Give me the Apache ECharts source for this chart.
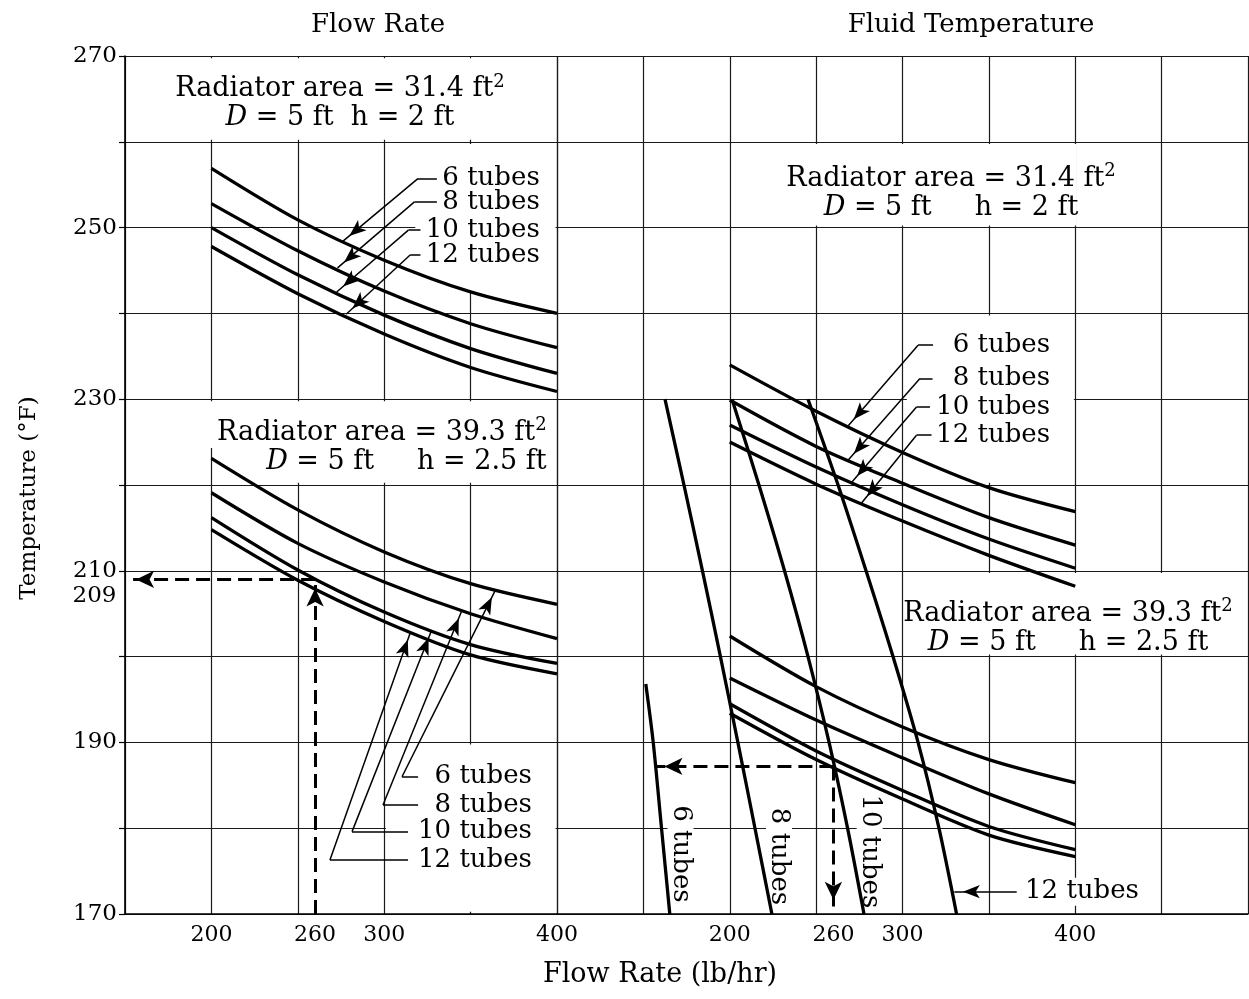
<!DOCTYPE html>
<html>
<head>
<meta charset="utf-8">
<title>Radiator outlet temperature vs flow rate</title>
<script src="https://cdn.jsdelivr.net/npm/echarts@6/dist/echarts.min.js"></script>
<style>
  html, body { margin: 0; padding: 0; background: #fff; }
  #chart { width: 1249px; height: 999px; }
</style>
</head>
<body>
<div id="chart"></div>
<script>
// ---- data -------------------------------------------------------------
// Flow rates (lb/hr) at which the radiator curves are read
const flowRates = [200, 250, 300, 350, 400];

// Flow-rate panel, radiator area 31.4 ft² (D = 5 ft, h = 2 ft): temperature °F
const small6  = [256.9, 250.9, 246.2, 242.5, 240.0];
const small8  = [252.8, 247.3, 242.6, 238.8, 236.0];
const small10 = [250.0, 244.5, 239.8, 235.9, 233.0];
const small12 = [247.8, 242.3, 237.6, 233.7, 230.9];
// Flow-rate panel, radiator area 39.3 ft² (D = 5 ft, h = 2.5 ft)
const large6  = [223.1, 217.1, 212.2, 208.5, 206.1];
const large8  = [219.1, 213.2, 208.7, 205.0, 202.1];
const large10 = [216.2, 210.1, 205.2, 201.4, 199.2];
const large12 = [214.8, 208.9, 204.1, 200.2, 198.0];

// Fluid-temperature panel, radiator area 31.4 ft²
const fluidSmall6  = [234.0, 228.6, 223.8, 219.7, 216.9];
const fluidSmall8  = [229.9, 224.5, 220.2, 216.2, 213.0];
const fluidSmall10 = [227.0, 222.1, 217.7, 213.7, 210.3];
const fluidSmall12 = [225.0, 220.1, 215.8, 211.8, 208.2];
// Fluid-temperature panel, radiator area 39.3 ft²
const fluidLarge6  = [202.4, 196.5, 191.8, 188.0, 185.3];
const fluidLarge8  = [197.5, 192.6, 188.2, 184.0, 180.4];
const fluidLarge10 = [194.5, 189.0, 184.4, 180.2, 177.5];
const fluidLarge12 = [193.4, 188.0, 183.4, 179.2, 176.7];

// Constant-tube-count lines of the fluid-temperature panel
const tubeTemps  = [230, 220, 210, 200, 190, 180, 170];
const tube8Flow  = [162.5, 173.5, 184.2, 194.6, 204.7, 214.6, 224.4];
const tube10Flow = [201.3, 216.9, 231.7, 245.3, 257.5, 268.2, 277.7];
const tube12Flow = [245.3, 262.7, 278.9, 294.5, 309.0, 321.1, 331.3];
const tube6Flow  = [151.4, 155.7, 160.5, 165.3];
const tube6Temp  = [196.8, 190, 180, 170];

// Worked examples (dashed guides)
const exampleFlow = 260;        // lb/hr
const exampleTemp = 209;        // °F read on the flow-rate panel
const fluidExampleTemp = 187.2; // °F on the fluid-temperature panel
const fluidExampleStart = 157;  // lb/hr where the guide meets the 6-tube line

// Tick labels
const tempTicks = [170, 190, 210, 230, 250, 270];
const flowTicks = [200, 260, 300, 400];

// ---- drawing ----------------------------------------------------------
const FONT = 'DejaVu Serif';
const ink = '#000';
const gridInk = '#1a1a1a';
const pairs = (xs, ys) => xs.map((x, i) => [x, ys[i]]);

const curve = (g, xs, ys) => ({
  type: 'line', xAxisIndex: g, yAxisIndex: g,
  data: pairs(xs, ys),
  smooth: 0.3, symbol: 'none', silent: true, z: 3,
  lineStyle: { color: ink, width: 3.3 }
});

// White cells where annotation text sits (they interrupt the grid lines)
const box = (x1, y1, x2, y2) => [{ coord: [x1, y1] }, { coord: [x2, y2] }];
const cells = (g, boxes) => ({
  type: 'line', xAxisIndex: g, yAxisIndex: g, data: [], z: 1, silent: true,
  markArea: {
    silent: true, label: { show: false },
    itemStyle: { color: '#fff', borderWidth: 0 },
    emphasis: { disabled: true },
    data: boxes
  }
});

// Leader line: short horizontal stub, then a diagonal ending in an arrowhead
const tipArrow = { symbol: 'arrow', symbolSize: [10, 17], symbolOffset: [0, '50%'] };
const leader = (from, bend, tip) => [
  [{ coord: from }, { coord: bend }],
  [{ coord: bend }, Object.assign({ coord: tip }, tipArrow)]
];
const arrowSeg = (a, b) => [{ coord: a }, { coord: b, symbol: 'arrow', symbolSize: [13, 18], symbolOffset: [0, '50%'] }];

const notes = (g, items, leaders) => ({
  type: 'scatter', xAxisIndex: g, yAxisIndex: g, z: 2, silent: true,
  symbolSize: 1, itemStyle: { color: 'rgba(0,0,0,0)', opacity: 1 },
  label: {
    show: true, position: 'inside', color: ink, opacity: 1,
    fontFamily: FONT, fontSize: 26,
    rich: {
      t1: { fontFamily: FONT, fontSize: 27, lineHeight: 32, color: ink },
      t2: { fontFamily: FONT, fontSize: 27, lineHeight: 26, color: ink },
      d:  { fontFamily: FONT, fontSize: 27, lineHeight: 26, color: ink, fontStyle: 'italic' },
      s:  { fontFamily: FONT, fontSize: 18, lineHeight: 10, verticalAlign: 'top', color: ink }
    }
  },
  data: items,
  markLine: {
    silent: true, symbol: 'none', animation: false,
    label: { show: false }, emphasis: { disabled: true },
    lineStyle: { color: ink, width: 1.5, type: 'solid' },
    data: leaders.flat()
  }
});

const guides = (g, segs) => ({
  type: 'line', xAxisIndex: g, yAxisIndex: g, data: [], z: 4, silent: true,
  markLine: {
    silent: true, symbol: 'none', animation: false,
    label: { show: false }, emphasis: { disabled: true },
    lineStyle: { color: ink, width: 3, type: [14, 7] },
    data: segs
  }
});

const areaText = (area, dims) =>
  `{t1|Radiator area = ${area} ft}{s|2}\n{d|D}{t2|${dims}}`;
const note = (x, y, text, align, extra) => ({
  value: [x, y],
  label: Object.assign({ formatter: text, align: align, verticalAlign: 'middle' }, extra || {})
});

const leftNotes = [
  note(274.4, 264.6, areaText('31.4', ' = 5 ft  h = 2 ft'), 'center'),
  note(390, 255.7, '6 tubes', 'right'),
  note(390, 253.0, '8 tubes', 'right'),
  note(390, 249.7, '10 tubes', 'right'),
  note(390, 246.8, '12 tubes', 'right'),
  note(394, 224.6, areaText('39.3', ' = 5 ft     h = 2.5 ft'), 'right'),
  note(385.5, 186.0, '6 tubes', 'right'),
  note(385.5, 182.7, '8 tubes', 'right'),
  note(385.5, 179.6, '10 tubes', 'right'),
  note(385.5, 176.3, '12 tubes', 'right'),
  { value: [150, exampleTemp],
    label: { formatter: String(exampleTemp), position: 'left', distance: 8, offset: [0, 17],
             align: 'right', fontSize: 23 } }
];
const leftLeaders = [
  leader([330.5, 255.7], [319.5, 255.7], [276, 248.4]),
  leader([330.5, 253.0], [317.5, 253.0], [273, 245.3]),
  leader([321, 249.7], [314, 249.7], [272.5, 242.5]),
  leader([321, 246.8], [315, 246.8], [278, 239.9]),
  leader([319.6, 186.0], [310.3, 186.0], [364.5, 207.8]),
  leader([319.6, 182.7], [299.3, 182.7], [345, 205.4]),
  leader([313.8, 179.6], [281.4, 179.6], [327.5, 203.1]),
  leader([313.8, 176.3], [268.6, 176.3], [315.3, 202.9])
];

const rot = { rotate: -90, backgroundColor: '#fff', padding: [0, 2] };
const rightNotes = [
  note(328.1, 254.2, areaText('31.4', ' = 5 ft     h = 2 ft'), 'center'),
  note(385.4, 236.3, '6 tubes', 'right'),
  note(385.4, 232.4, '8 tubes', 'right'),
  note(385.4, 229.1, '10 tubes', 'right'),
  note(385.4, 225.8, '12 tubes', 'right'),
  note(395.8, 203.5, areaText('39.3', ' = 5 ft     h = 2.5 ft'), 'center'),
  note(171.5, 177.0, '6 tubes', 'center', rot),
  note(228.5, 176.7, '8 tubes', 'center', rot),
  note(281.0, 177.3, '10 tubes', 'center', rot),
  note(369.2, 172.6, '12 tubes', 'left', { backgroundColor: '#fff', padding: [1, 3] })
];
const rightLeaders = [
  leader([317.7, 236.3], [309.0, 236.3], [268.6, 226.9]),
  leader([317.4, 232.4], [310.1, 232.4], [268.6, 222.9]),
  leader([315.9, 229.1], [308.1, 229.1], [270.5, 220.3]),
  leader([316.8, 225.8], [308.1, 225.8], [276.3, 217.9]),
  [[{ coord: [366.1, 172.6] }, Object.assign({ coord: [330.0, 172.6] }, tipArrow)]]
];

const yAxis = (g, primary) => ({
  type: 'value', gridIndex: g, min: 170, max: 270, interval: 10,
  axisLine: { show: primary, onZero: false, lineStyle: { color: ink, width: 1.6 } },
  axisTick: { show: primary, length: 6, lineStyle: { color: ink, width: 1.2 } },
  axisLabel: { show: primary, customValues: tempTicks, margin: 8, color: ink, fontFamily: FONT, fontSize: 23 },
  splitLine: { show: true, lineStyle: { color: gridInk, width: 1.2 } }
});
const xAxis = (g, min, max) => ({
  type: 'value', gridIndex: g, min: min, max: max, interval: 50,
  axisLine: { show: true, onZero: false, lineStyle: { color: ink, width: 1.6 } },
  axisTick: { show: false },
  axisLabel: { customValues: flowTicks, margin: 10, color: ink, fontFamily: FONT, fontSize: 22 },
  splitLine: { show: true, lineStyle: { color: gridInk, width: 1.2 } }
});

const titleStyle = { color: ink, fontFamily: FONT, fontSize: 26, fontWeight: 'normal' };

const option = {
  animation: false,
  backgroundColor: '#fff',
  textStyle: { fontFamily: FONT, color: ink },
  title: [
    { text: 'Flow Rate', left: 373, top: 7, textAlign: 'center', textStyle: titleStyle },
    { text: 'Fluid Temperature', left: 966, top: 7, textAlign: 'center', textStyle: titleStyle },
    { text: 'Flow Rate (lb/hr)', left: 655, top: 956, textAlign: 'center',
      textStyle: Object.assign({}, titleStyle, { fontSize: 27 }) }
  ],
  // vertical axis title, set a little below the plot's middle
  graphic: [{
    type: 'text', x: 29, y: 498, rotation: Math.PI / 2, silent: true,
    style: {
      text: 'Temperature (°F)', fill: ink,
      font: '23px "DejaVu Serif"', align: 'center', verticalAlign: 'middle'
    }
  }],
  grid: [
    { left: 125, top: 56, width: 432, height: 858, outerBoundsMode: 'none' },
    { left: 557, top: 56, width: 691, height: 858, outerBoundsMode: 'none' }
  ],
  xAxis: [xAxis(0, 150, 400), xAxis(1, 100, 500)],
  yAxis: [yAxis(0, true), yAxis(1, false)],
  series: [
    cells(0, [
      box(151, 260.25, 399, 269.75),
      box(318, 242.5, 399.2, 259.75),
      box(195, 224.3, 399.2, 229.75),
      box(202, 220.25, 399.2, 224.3),
      box(301, 170.25, 399.2, 189.75)
    ]),
    cells(1, [
      box(201, 250.25, 400.8, 259.75),
      box(302.5, 220.25, 399.2, 239.75),
      box(302, 200.25, 499, 209.75)
    ]),
    curve(0, flowRates, small6), curve(0, flowRates, small8),
    curve(0, flowRates, small10), curve(0, flowRates, small12),
    curve(0, flowRates, large6), curve(0, flowRates, large8),
    curve(0, flowRates, large10), curve(0, flowRates, large12),
    curve(1, flowRates, fluidSmall6), curve(1, flowRates, fluidSmall8),
    curve(1, flowRates, fluidSmall10), curve(1, flowRates, fluidSmall12),
    curve(1, flowRates, fluidLarge6), curve(1, flowRates, fluidLarge8),
    curve(1, flowRates, fluidLarge10), curve(1, flowRates, fluidLarge12),
    curve(1, tube6Flow, tube6Temp), curve(1, tube8Flow, tubeTemps),
    curve(1, tube10Flow, tubeTemps), curve(1, tube12Flow, tubeTemps),
    guides(0, [
      arrowSeg([exampleFlow, 170], [exampleFlow, exampleTemp]),
      arrowSeg([exampleFlow, exampleTemp], [151.2, exampleTemp])
    ]),
    guides(1, [
      arrowSeg([exampleFlow, fluidExampleTemp], [fluidExampleStart, fluidExampleTemp]),
      arrowSeg([exampleFlow, fluidExampleTemp], [exampleFlow, 170.6])
    ]),
    notes(0, leftNotes, leftLeaders),
    notes(1, rightNotes, rightLeaders)
  ]
};

const chart = echarts.init(document.getElementById('chart'), null, { renderer: 'canvas' });
chart.setOption(option);
</script>
</body>
</html>
